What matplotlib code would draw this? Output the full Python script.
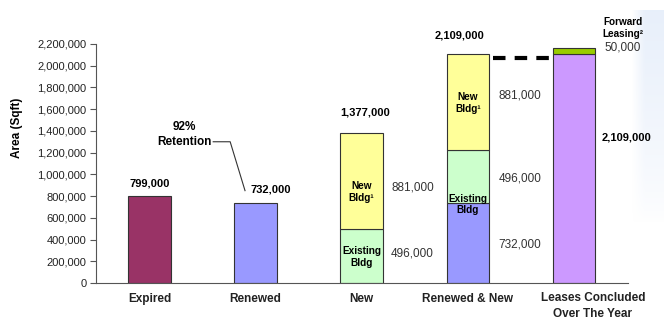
import numpy as np
import matplotlib.pyplot as plt

plt.rcParams['font.family'] = ['Liberation Sans', 'DejaVu Sans']

categories = ["Expired", "Renewed", "New", "Renewed & New", "Leases Concluded\nOver The Year"]
expired = 799000
renewed = 732000
existing_bldg = 496000
new_bldg = 881000
concluded = 2109000
forward_leasing = 50000
yticks = np.arange(0, 2200001, 200000)

c_expired = "#993366"
c_renewed = "#9999FF"
c_new = "#FFFF99"
c_exist = "#CCFFCC"
c_concl = "#CC99FF"
c_fwd = "#99CC00"

fig = plt.figure(figsize=(6.64, 3.2), dpi=100)

# faint slide background tint along the right edge
bg = fig.add_axes([0.95, 0.3, 0.05, 0.67], zorder=-1)
fade_v = np.linspace(0, 1, 100)[:, None] ** 0.7
fade_h = np.clip(np.linspace(0, 2.5, 20)[None, :], 0, 1)
tint = np.ones((100, 20, 4))
tint[..., 0] = 0.88
tint[..., 1] = 0.92
tint[..., 2] = 0.98
tint[..., 3] = fade_v * fade_h * 0.75
bg.imshow(tint, aspect="auto", origin="lower", extent=[0, 1, 0, 1])
bg.axis("off")

ax = fig.add_axes([0.1446, 0.1156, 0.801, 0.747])
ax.patch.set_alpha(0)

w = 0.4
ek = dict(edgecolor="#333333", linewidth=0.8, width=w)
x = np.arange(len(categories))

ax.bar(x[0], expired, color=c_expired, **ek)
ax.bar(x[1], renewed, color=c_renewed, **ek)
ax.bar(x[2], existing_bldg, color=c_exist, **ek)
ax.bar(x[2], new_bldg, bottom=existing_bldg, color=c_new, **ek)
ax.bar(x[3], renewed, color=c_renewed, **ek)
ax.bar(x[3], existing_bldg, bottom=renewed, color=c_exist, **ek)
ax.bar(x[3], new_bldg, bottom=renewed + existing_bldg, color=c_new, **ek)
ax.bar(x[4], concluded, color=c_concl, **ek)
ax.bar(x[4], forward_leasing, bottom=concluded, color=c_fwd, **ek)

# dashed link between the two totals
total_rn = renewed + existing_bldg + new_bldg
ax.plot([x[3] + w / 2 + 0.04, x[4] - w / 2 - 0.03], [total_rn - 40000] * 2,
        color="black", linewidth=3, dashes=(3, 2.2), solid_capstyle="butt")

ax.set_xlim(-0.505, 4.51)
ax.set_ylim(0, 2200000)
ax.set_yticks(yticks)
ax.set_yticklabels([f"{v:,}" for v in yticks], fontsize=8, color="#222222")
ax.set_xticks(x[:4])
ax.set_xticklabels(categories[:4], fontsize=8.5, fontweight="bold", color="#222222")
ax.tick_params(axis="x", length=0, pad=7)
ax.tick_params(axis="y", length=4, width=0.8, color="#555555", pad=3)
ax.text(x[4] + 0.18, -0.038, categories[4], transform=ax.get_xaxis_transform(),
        ha="center", va="top", fontsize=8.5, fontweight="bold", color="#222222",
        linespacing=1.45)
for s in ["top", "right"]:
    ax.spines[s].set_visible(False)
ax.spines["left"].set_color("#555555")
ax.spines["bottom"].set_color("#555555")

fig.text(0.026, 0.6, "Area (Sqft)", rotation=90, ha="center", va="center",
         fontsize=8.5, fontweight="bold")

bold = dict(fontsize=8, fontweight="bold", ha="center", va="center")
norm = dict(fontsize=8.5, ha="center", va="center", color="#333333")
inbar = dict(fontsize=7.2, fontweight="bold", ha="center", va="center", linespacing=1.2)

ax.text(x[0], expired + 115000, f"{expired:,}", **bold)
ax.text(x[1] + 0.14, renewed + 125000, f"{renewed:,}", **bold)
ax.text(x[2] + 0.03, existing_bldg + new_bldg + 190000, f"{existing_bldg + new_bldg:,}", **bold)
ax.text(x[3] - 0.08, total_rn + 170000, f"{total_rn:,}", **bold)
ax.text(x[4] + 0.5, concluded * 0.637, f"{concluded:,}", **bold)

ax.text(x[2] + 0.48, existing_bldg + new_bldg / 2 - 60000, f"{new_bldg:,}", **norm)
ax.text(x[2] + 0.48, existing_bldg / 2 + 20000, f"{existing_bldg:,}", **norm)
ax.text(x[3] + 0.49, renewed + existing_bldg + new_bldg / 2 + 60000, f"{new_bldg:,}", **norm)
ax.text(x[3] + 0.49, renewed + existing_bldg / 2 - 15000, f"{existing_bldg:,}", **norm)
ax.text(x[3] + 0.49, renewed / 2 - 10000, f"{renewed:,}", **norm)
ax.text(x[4] + 0.46, concluded + forward_leasing + 5000, f"{forward_leasing:,}", **norm)
ax.text(x[4] + 0.46, concluded + forward_leasing + 190000, "Forward\nLeasing²",
        fontsize=7.2, fontweight="bold", ha="center", va="center", linespacing=1.3,
        clip_on=False)

ax.text(x[2], existing_bldg + new_bldg / 2 - 100000, "New\nBldg¹", **inbar)
ax.text(x[2], existing_bldg / 2 - 10000, "Existing\nBldg", **inbar)
ax.text(x[3], renewed + existing_bldg + new_bldg / 2 - 10000, "New\nBldg¹", **inbar)
ax.text(x[3], renewed - 10000, "Existing\nBldg", **inbar)

# retention callout
ax.text(0.33, 1365000, "92%\nRetention", fontsize=8.5, fontweight="bold",
        ha="center", va="center", linespacing=1.3)
ax.plot([0.6, 0.76, 0.9], [1300000, 1300000, 850000], color="#333333", linewidth=0.8)

fig.savefig("out.png", dpi=100)
